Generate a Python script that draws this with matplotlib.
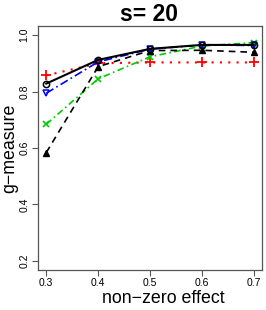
import matplotlib
matplotlib.use("Agg")
import matplotlib.pyplot as plt

effects = [0.3, 0.4, 0.5, 0.6, 0.7]
black_solid = [0.828, 0.912, 0.951, 0.965, 0.965]
blue_dashdot = [0.794, 0.905, 0.950, 0.965, 0.963]
red_dotted = [0.857, 0.900, 0.903, 0.903, 0.903]
green_dashdot = [0.684, 0.845, 0.923, 0.961, 0.973]
black_dashed = [0.584, 0.888, 0.945, 0.946, 0.939]
yticks = [0.2, 0.4, 0.6, 0.8, 1.0]
xticks = [0.3, 0.4, 0.5, 0.6, 0.7]

plt.rcParams['font.family'] = ['Liberation Sans', 'DejaVu Sans']
fig = plt.figure(figsize=(2.66, 3.10), dpi=100)
ax = fig.add_axes([38/266, 1-270/310, (262-38)/266, (270-26)/310])

ax.plot(effects, red_dotted, color='red', linestyle=(0, (1, 3)), lw=1.5,
        marker='+', ms=7, mew=1.3)
ax.plot(effects, green_dashdot, color='#00cc00', linestyle=(0, (4, 2, 1, 2)), lw=1.2,
        marker='x', ms=5, mew=1.2)
ax.plot(effects, black_dashed, color='black', linestyle=(0, (4, 3)), lw=1.2,
        marker='^', ms=4, mfc='black', mew=1)
ax.plot(effects, blue_dashdot, color='blue', linestyle=(0, (5, 2, 1, 2)), lw=1.2,
        marker='v', ms=5, mfc='none', mew=1.1)
ax.plot(effects, black_solid, color='black', linestyle='-', lw=1.5,
        marker='o', ms=4.5, mfc='none', mew=1.1)

ax.set_xlim(0.284, 0.716)
ax.set_ylim(0.168, 1.032)
ax.set_xticks(xticks)
ax.set_xticklabels([f"{v:.1f}" for v in xticks], fontsize=7.5)
ax.set_yticks(yticks)
ax.set_yticklabels([f"{v:.1f}" for v in yticks], fontsize=7.5, rotation=90, va='center')
ax.tick_params(length=4, width=0.8, color='#555555', pad=2)
for s in ax.spines.values():
    s.set_color('#555555')
    s.set_linewidth(0.9)

fig.text(163/266, 1-303/310, "non\u2212zero effect", fontsize=12.75,
         ha='center', va='baseline')
fig.text(10/266, 1-148/310, "g\u2212measure", fontsize=12.75,
         ha='center', va='center', rotation=90)
fig.text(149/266, 1-21/310, "s= 20", fontsize=16.5, fontweight='bold',
         ha='center', va='baseline')

fig.savefig("out.png", dpi=100)
